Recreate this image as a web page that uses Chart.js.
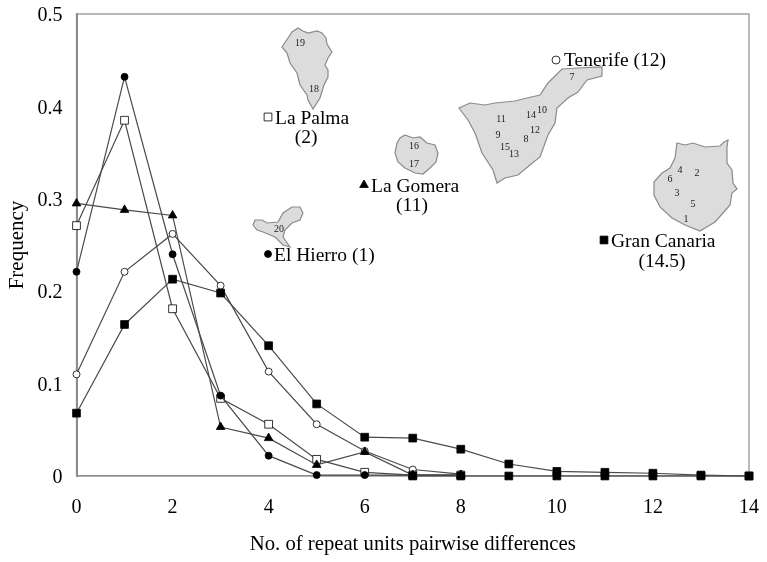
<!DOCTYPE html>
<html>
<head>
<meta charset="utf-8">
<title>Repeat unit differences</title>
<script src="https://cdn.jsdelivr.net/npm/chart.js@4/dist/chart.umd.js"></script>
<style>
  html, body { margin: 0; padding: 0; background: #fff; }
  canvas { display: block; }
</style>
</head>
<body>
<canvas id="chart" width="767" height="562"></canvas>
<script>
const repeatDiffs = [0, 1, 2, 3, 4, 5, 6, 7, 8, 9, 10, 11, 12, 13, 14];
const elHierro    = [0.221, 0.432, 0.240, 0.087, 0.022, 0.001, 0.001, 0.001, 0.001];
const laPalma     = [0.271, 0.385, 0.181, 0.084, 0.056, 0.018, 0.004, 0.001, 0.001];
const laGomera    = [0.295, 0.288, 0.282, 0.053, 0.041, 0.012, 0.026, 0.001, 0.001];
const tenerife    = [0.110, 0.221, 0.262, 0.206, 0.113, 0.056, 0.027, 0.007, 0.002];
const granCanaria = [0.068, 0.164, 0.213, 0.198, 0.141, 0.078, 0.042, 0.041, 0.029, 0.013, 0.005, 0.004, 0.003, 0.001, 0];
// black squares sitting on the axis from 7 to 14 in the reference
const zeroTail    = [null, null, null, null, null, null, null, 0, 0, 0, 0, 0, 0, 0, 0];

const serif = '"Liberation Serif", "Times New Roman", serif';
const lineColor = '#4a4a4a';

function series(name, values, pointStyle, radius, fill) {
  return {
    label: name,
    data: values.map((v, i) => ({ x: repeatDiffs[i], y: v })),
    borderColor: lineColor,
    borderWidth: 1.2,
    tension: 0,
    clip: false,
    pointStyle: pointStyle,
    pointRadius: radius,
    pointBackgroundColor: fill,
    pointBorderColor: '#000',
    pointBorderWidth: 0.8
  };
}

// island outlines, in canvas pixels
const islands = [
  [[298,28],[303,31],[308,33],[317,31],[322,33],[326,38],[327,44],[332,52],[328,58],[325,65],[328,70],[328,77],[324,85],[320,98],[313,109],[308,100],[307,95],[300,85],[297,73],[290,63],[287,53],[282,47],[288,38],[292,32]],
  [[405,135],[413,138],[420,137],[427,143],[435,145],[438,153],[436,162],[430,168],[423,174],[415,173],[405,168],[398,162],[395,153],[397,143],[400,138]],
  [[253,225],[255,220],[262,220],[267,223],[278,222],[283,213],[292,207],[300,207],[303,213],[300,220],[292,223],[285,230],[283,237],[290,247],[283,245],[275,237],[263,232],[257,230]],
  [[459,108],[470,103],[485,105],[495,103],[505,102],[515,101],[527,98],[540,95],[548,83],[562,69],[578,68],[602,67],[602,76],[587,80],[578,92],[568,98],[557,108],[555,123],[548,135],[540,157],[530,165],[518,175],[505,178],[497,183],[493,170],[482,153],[475,133],[468,120]],
  [[677,143],[685,145],[693,143],[705,147],[720,146],[724,142],[728,140],[727,147],[727,163],[732,170],[733,183],[737,189],[732,193],[730,205],[723,213],[715,222],[700,231],[685,225],[672,218],[660,207],[654,195],[654,182],[662,173],[670,168],[675,158]]
];

const siteLabels = [
  ['19',300,43],['18',314,89],['16',414,146],['17',414,164],['20',279,229],
  ['7',572,77],['11',501,119],['9',498,135],['15',505,147],['13',514,154],['8',526,139],['12',535,130],['14',531,115],['10',542,110],
  ['4',680,170],['2',697,173],['6',670,179],['3',677,193],['5',693,204],['1',686,219]
];

const keyLabels = [
  ['La Palma', 275, 119, 'left'], ['(2)', 306, 138, 'center'],
  ['La Gomera', 371, 187, 'left'], ['(11)', 412, 206, 'center'],
  ['El Hierro (1)', 274, 256, 'left'],
  ['Tenerife (12)', 564, 61, 'left'],
  ['Gran Canaria', 611, 242, 'left'], ['(14.5)', 662, 262, 'center']
];

const keyMarkers = [
  ['rect', 5.5, '#fff', 268, 117],
  ['triangle', 5, '#000', 364, 185],
  ['circle', 3.5, '#000', 268, 254],
  ['circle', 4, '#fff', 556, 60],
  ['rect', 5.5, '#000', 604, 240]
];

const mapPlugin = {
  id: 'mapPlugin',
  beforeDatasetsDraw(chart) {
    const ctx = chart.ctx, a = chart.chartArea;
    ctx.save();
    ctx.strokeStyle = '#8c8c8c';
    ctx.lineWidth = 1.2;
    ctx.strokeRect(a.left, a.top, a.right - a.left, a.bottom - a.top);
    // islands
    ctx.fillStyle = '#dcdcdc';
    ctx.strokeStyle = '#8a8a8a';
    islands.forEach(shape => {
      ctx.beginPath();
      shape.forEach((p, i) => i ? ctx.lineTo(p[0], p[1]) : ctx.moveTo(p[0], p[1]));
      ctx.closePath();
      ctx.fill();
      ctx.stroke();
    });
    ctx.fillStyle = '#222';
    ctx.textAlign = 'center';
    ctx.textBaseline = 'middle';
    ctx.font = '10px ' + serif;
    siteLabels.forEach(t => ctx.fillText(t[0], t[1], t[2]));
    ctx.fillStyle = '#000';
    ctx.font = '19.5px ' + serif;
    keyLabels.forEach(t => {
      ctx.textAlign = t[3];
      ctx.fillText(t[0], t[1], t[2]);
    });
    keyMarkers.forEach(m => {
      ctx.fillStyle = m[2];
      ctx.strokeStyle = '#000';
      ctx.lineWidth = 0.8;
      Chart.helpers.drawPoint(ctx, { pointStyle: m[0], radius: m[1], borderWidth: 0.8 }, m[3], m[4]);
    });
    ctx.restore();
  }
};

new Chart(document.getElementById('chart'), {
  type: 'line',
  data: {
    datasets: [
      series('Gran Canaria (14.5)', granCanaria, 'rect', 5.5, '#000'),
      series('tail', zeroTail, 'rect', 5.5, '#000'),
      series('El Hierro (1)', elHierro, 'circle', 3.5, '#000'),
      series('La Gomera (11)', laGomera, 'triangle', 5, '#000'),
      series('La Palma (2)', laPalma, 'rect', 5.5, '#fff'),
      series('Tenerife (12)', tenerife, 'circle', 3.5, '#fff')
    ]
  },
  options: {
    responsive: false,
    animation: false,
    layout: { padding: { top: 14, right: 18, bottom: 0, left: 0 } },
    plugins: { legend: { display: false }, tooltip: { enabled: false } },
    scales: {
      x: {
        type: 'linear',
        min: 0,
        max: 14,
        afterFit(s) { s.height = 86; s.paddingLeft = 0; s.paddingRight = 0; },
        grid: { display: false, drawTicks: false },
        border: { color: '#8c8c8c', width: 1.2 },
        ticks: { stepSize: 2, padding: 20, color: '#000', maxRotation: 0, font: { family: serif, size: 20 } },
        title: { display: true, text: 'No. of repeat units pairwise differences', color: '#000', font: { family: serif, size: 20.7 }, padding: { top: 0, bottom: 5 } }
      },
      y: {
        min: 0,
        max: 0.5,
        afterFit(s) { s.width = 76.5; s.paddingTop = 0; s.paddingBottom = 0; },
        grid: { display: false, drawTicks: false },
        border: { color: '#8c8c8c', width: 2 },
        ticks: {
          stepSize: 0.1,
          padding: 14,
          labelOffset: 2,
          color: '#000',
          font: { family: serif, size: 20 },
          callback: v => v === 0 ? '0' : v.toFixed(1)
        },
        title: { display: true, text: 'Frequency', color: '#000', font: { family: serif, size: 21 }, padding: { top: 5, bottom: 0 } }
      }
    }
  },
  plugins: [mapPlugin]
});
</script>
</body>
</html>
